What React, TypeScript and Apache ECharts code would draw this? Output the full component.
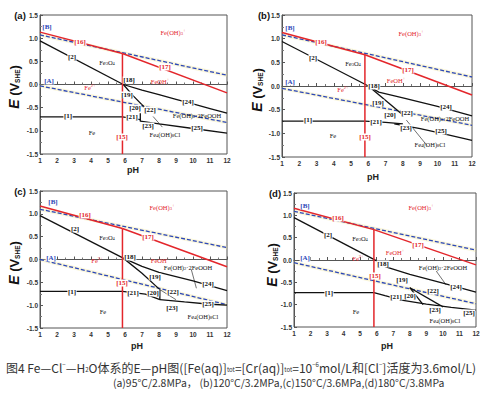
import React, { useEffect, useRef } from "react";
import * as echarts from "echarts";

// ---------- data (pH, E/V) ----------
const PH_MIN = 1, PH_MAX = 12, E_MIN = -1.5, E_MAX = 1.5;

// panel (a) 95 C
const aA = [[1, -0.03], [12, -0.82]];
const aB = [[1, 1.07], [12, 0.2]];
const a16 = [[1, 1.13], [5.85, 0.67]];
const a17 = [[5.85, 0.67], [12, -0.18]];
const a15 = [[5.85, 0.67], [5.85, -1.5]];
const a1 = [[1, -0.7], [5.85, -0.7]];
const a2 = [[1, 0.94], [5.9, 0.0]];
const a24 = [[5.9, 0.0], [7, -0.12], [8, -0.22], [9, -0.32], [10, -0.42], [11, -0.52], [12, -0.62]];
const a19 = [[5.9, 0.0], [6.5, -0.25], [7.3, -0.55]];
const a20 = [[6.9, -0.62], [6.9, -0.8]];
const a21 = [[5.85, -0.7], [6.9, -0.76]];
const a25 = [[6.9, -0.79], [8, -0.85], [10, -0.95], [12, -1.05]];
const a22 = [[7.65, -0.69], [8.2, -0.92]];

// panel (b) 120 C
const bA = [[1, -0.05], [12, -0.83]];
const bB = [[1, 1.08], [12, 0.19]];
const b16 = [[1, 1.13], [5.8, 0.66]];
const b17 = [[5.8, 0.66], [12, -0.19]];
const b15 = [[5.8, 0.66], [5.8, -1.5]];
const b1 = [[1, -0.74], [5.8, -0.74]];
const b2 = [[1, 0.94], [6.0, 0.0]];
const b24 = [[6.0, 0.0], [6.6, -0.13], [8, -0.25], [10, -0.43], [12, -0.63]];
const b19 = [[6.0, 0.0], [7.9, -0.58]];
const b21 = [[5.8, -0.74], [7, -0.77], [8, -0.8]];
const b25 = [[7.5, -0.8], [9, -0.9], [10.5, -1.02], [12, -1.15]];
const b22 = [[8.2, -0.72], [9.4, -1.26]];

// panel (c) 150 C
const cA = [[1, 0.0], [12, -0.99]];
const cB = [[1, 1.1], [12, 0.26]];
const c16 = [[1, 1.17], [5.85, 0.68]];
const c17 = [[5.85, 0.68], [12, -0.16]];
const c15 = [[5.85, 0.68], [5.85, -1.5]];
const c1 = [[1, -0.7], [5.85, -0.7]];
const c2 = [[1, 0.96], [5.9, 0.03]];
const c24 = [[5.9, 0.03], [7, -0.15], [8, -0.28], [10, -0.47], [12, -0.68]];
const c19 = [[5.9, 0.03], [7, -0.3], [8.05, -0.66]];
const c20 = [[8.05, -0.66], [8.05, -0.88]];
const c21 = [[5.85, -0.7], [7.2, -0.76], [8.05, -0.88]];
const c25 = [[8.05, -0.88], [9.5, -0.93], [11, -0.98], [12, -1.0]];
const c22 = [[8.05, -0.66], [9, -0.88]];
const cP1 = [[9.9, -0.22], [10.2, -0.63]];

// panel (d) 180 C
const dA = [[1, -0.06], [12, -0.98]];
const dB = [[1, 1.09], [12, 0.22]];
const d16 = [[1, 1.16], [5.83, 0.68]];
const d17 = [[5.83, 0.68], [12, -0.11]];
const d15 = [[5.83, 0.68], [5.83, -1.5]];
const d1 = [[1, -0.73], [5.83, -0.73]];
const d2 = [[1, 0.95], [6.0, -0.02]];
const d24 = [[6.5, -0.15], [8, -0.32], [10, -0.52], [12, -0.72]];
const d21 = [[5.83, -0.73], [6.5, -0.8], [7.5, -0.9], [9, -0.99], [10.5, -1.06], [12, -1.12]];
const d20 = [[8.0, -0.62], [8.8, -1.0]];
const d22 = [[8.0, -0.62], [10.0, -1.05]];
const dP1 = [[9.6, -0.25], [10.2, -0.56]];

const PANELS = [
  { blue: [aA, aB], red: [a16, a17, a15], black: [a1, a2, a24, a19, a20, a21, a25], thin: [a22] },
  { blue: [bA, bB], red: [b16, b17, b15], black: [b1, b2, b24, b19, b21, b25], thin: [b22] },
  { blue: [cA, cB], red: [c16, c17, c15], black: [c1, c2, c24, c19, c20, c21, c25], thin: [c22, cP1] },
  { blue: [dA, dB], red: [d16, d17, d15], black: [d1, d2, d24, d21, d20, d22], thin: [dP1] },
];

const PANEL_NAMES = ["(a)", "(b)", "(c)", "(d)"];

// ---------- layout ----------
const GRIDS = [
  { left: 40, top: 15, width: 187, height: 139 },
  { left: 282, top: 15, width: 190, height: 142 },
  { left: 40, top: 191, width: 187, height: 137 },
  { left: 294, top: 193, width: 182, height: 134 },
];

const RED = "#e3262b";
const BLUE = "#2c47b8";
const BLACK = "#111";

// number labels: [text, x, y, color]
const NUM_LABELS: [string, number, number, string][] = [
  // a
  ["[B]", 47, 27, BLUE], ["[16]", 80, 42, RED], ["[17]", 165, 67, RED], ["[2]", 72, 57, BLACK],
  ["[A]", 49, 81, BLUE], ["[18]", 129, 80, BLACK], ["[19]", 127, 95, BLACK], ["[20]", 135, 108, BLACK],
  ["[22]", 150, 110, BLACK], ["[24]", 188, 102, BLACK], ["[1]", 68, 116, BLACK], ["[21]", 132, 117, BLACK],
  ["[23]", 148, 126, BLACK], ["[25]", 197, 128, BLACK], ["[15]", 122, 137, RED],
  // b
  ["[B]", 290, 28, BLUE], ["[16]", 321, 42, RED], ["[17]", 408, 70, RED], ["[2]", 313, 58, BLACK],
  ["[A]", 290, 82, BLUE], ["[18]", 374, 86, BLACK], ["[19]", 378, 103, BLACK], ["[20]", 390, 115, BLACK],
  ["[22]", 407, 113, BLACK], ["[24]", 446, 107, BLACK], ["[1]", 308, 120, BLACK], ["[21]", 376, 122, BLACK],
  ["[23]", 406, 128, BLACK], ["[25]", 441, 131, BLACK], ["[15]", 365, 137, RED],
  // c
  ["[B]", 53, 202, BLUE], ["[16]", 85, 215, RED], ["[17]", 148, 237, RED], ["[2]", 75, 229, BLACK],
  ["[A]", 51, 258, BLUE], ["[18]", 130, 257, BLACK], ["[15]", 122, 283, RED], ["[19]", 155, 277, BLACK],
  ["[20]", 153, 293, BLACK], ["[22]", 173, 292, BLACK], ["[24]", 208, 284, BLACK], ["[1]", 72, 292, BLACK],
  ["[21]", 133, 293, BLACK], ["[23]", 172, 308, BLACK], ["[25]", 208, 304, BLACK],
  // d
  ["[B]", 305, 206, BLUE], ["[16]", 338, 218, RED], ["[17]", 418, 245, RED], ["[2]", 328, 235, BLACK],
  ["[A]", 305, 258, BLUE], ["[18]", 383, 264, BLACK], ["[15]", 375, 276, RED], ["[19]", 402, 280, BLACK],
  ["[20]", 410, 296, BLACK], ["[22]", 433, 291, BLACK], ["[24]", 456, 287, BLACK], ["[1]", 329, 293, BLACK],
  ["[21]", 396, 297, BLACK], ["[23]", 435, 310, BLACK], ["[25]", 469, 313, BLACK],
];

// region labels: [rich text, x, y, color]
const FEOH3 = "Fe(OH){sub|3}{sup|+}";
const FE3O4 = "Fe{sub|3}O{sub|4}";
const FEOH = "FeOH{sup|+}";
const FE2 = "Fe{sup|2+}";
const FE = "Fe";
const MIX = "Fe(OH){sub|2}·2FeOOH";
const CL = "Fe{sub|4}(OH){sub|8}Cl";

const REGION_LABELS: [string, number, number, string][] = [
  [FEOH3, 173, 32, RED], [FE3O4, 107, 62, BLACK], [FEOH, 160, 81, RED], [FE2, 90, 87, RED],
  [FE, 92, 132, BLACK], [MIX, 197, 115, BLACK], [CL, 165, 134, BLACK],
  [FEOH3, 411, 33, RED], [FE3O4, 353, 63, BLACK], [FEOH, 396, 80, RED], [FE2, 343, 89, RED],
  [FE, 333, 135, BLACK], [MIX, 445, 118, BLACK], [CL, 430, 144, BLACK],
  [FEOH3, 162, 207, RED], [FE3O4, 107, 237, BLACK], [FEOH, 160, 260, RED], [FE2, 97, 260, RED],
  [FE, 103, 311, BLACK], [MIX, 188, 267, BLACK], [CL, 203, 316, BLACK],
  [FEOH3, 421, 207, RED], [FE3O4, 360, 238, BLACK], [FEOH, 395, 252, RED], [FE2, 358, 258, RED],
  [FE, 356, 311, BLACK], [MIX, 443, 267, BLACK], [CL, 445, 320, BLACK],
];

const YTITLE_POS = [[14, 87], [257, 90], [14, 263], [272, 265]];
const PANEL_NAME_POS = [[20, 15], [264, 15], [20, 191], [275, 193]];
const PH_TITLE_POS = [[133, 170], [373, 177], [137, 346], [387, 346]];

const CAPTION1 =
  "图4 Fe—Cl{sup|−}—H{sub|2}O体系的E—pH图([Fe(aq)]{sub|tot}=[Cr(aq)]{sub|tot}=10{sup|−6}mol/L和[Cl{sup|−}]活度为3.6mol/L)";
const CAPTION2 = "(a)95°C/2.8MPa， (b)120°C/3.2MPa,(c)150°C/3.6MPa,(d)180°C/3.8MPa";

export default function App() {
  const ref = useRef<HTMLDivElement>(null);
  useEffect(() => {
    if (!ref.current) return;
    const chart = echarts.init(ref.current, undefined, { renderer: "svg" });

    const series: any[] = [];
    PANELS.forEach((p, i) => {
      const base = { type: "line", xAxisIndex: i, yAxisIndex: i, showSymbol: false, symbol: "none", silent: true };
      p.blue.forEach((d) => {
        series.push({ ...base, data: d, z: 1, lineStyle: { color: "rgba(240,230,150,0.35)", width: 3.5 } });
        series.push({ ...base, data: d, z: 2, lineStyle: { color: BLUE, width: 1.3, type: [4, 2] } });
      });
      p.black.forEach((d) => series.push({ ...base, data: d, z: 3, lineStyle: { color: BLACK, width: 1.3 } }));
      p.thin.forEach((d) => series.push({ ...base, data: d, z: 3, lineStyle: { color: BLACK, width: 0.6 } }));
      p.red.forEach((d) => series.push({ ...base, data: d, z: 4, lineStyle: { color: RED, width: 1.5 } }));
    });

    const graphics: any[] = [];
    NUM_LABELS.forEach(([t, x, y, c]) =>
      graphics.push({
        type: "text", x, y, z: 100,
        style: {
          text: t, fill: c, fontSize: 7, fontWeight: "bold", fontFamily: "Liberation Serif",
          align: "center", verticalAlign: "middle", textAlign: "center", textVerticalAlign: "middle",
          backgroundColor: "#fff", padding: [0, 0.5],
        },
      })
    );
    REGION_LABELS.forEach(([t, x, y, c]) =>
      graphics.push({
        type: "text", x, y, z: 100,
        style: {
          text: t, fill: c, fontSize: 6.5, fontFamily: "Liberation Serif",
          align: "center", verticalAlign: "middle", textAlign: "center", textVerticalAlign: "middle",
          rich: {
            sub: { fontSize: 4.5, fill: c, padding: [3, 0, 0, 0], fontFamily: "Liberation Serif" },
            sup: { fontSize: 4.5, fill: c, padding: [0, 0, 3, 0], fontFamily: "Liberation Serif" },
          },
        },
      })
    );
    YTITLE_POS.forEach(([x, y]) =>
      graphics.push({
        type: "text", x, y, rotation: Math.PI / 2, z: 100,
        style: {
          text: "{e|E} (V{s|SHE})", fill: "#111", fontSize: 13, fontWeight: "bold", fontFamily: "Liberation Sans",
          align: "center", verticalAlign: "middle", textAlign: "center", textVerticalAlign: "middle",
          rich: {
            e: { fontSize: 14, fontStyle: "italic", fontWeight: "bold", fontFamily: "Liberation Sans", fill: "#111" },
            s: { fontSize: 6.5, fontWeight: "bold", padding: [6, 0, 0, 0], fontFamily: "Liberation Sans", fill: "#111" },
          },
        },
      })
    );
    PANEL_NAMES.forEach((t, i) =>
      graphics.push({
        type: "text", x: PANEL_NAME_POS[i][0], y: PANEL_NAME_POS[i][1], z: 100,
        style: {
          text: t, fill: "#111", fontSize: 9.5, fontWeight: "bold", fontFamily: "Liberation Sans",
          align: "center", verticalAlign: "middle", textAlign: "center", textVerticalAlign: "middle",
        },
      })
    );
    PH_TITLE_POS.forEach(([x, y]) =>
      graphics.push({
        type: "text", x, y, z: 100,
        style: {
          text: "pH", fill: "#222", fontSize: 9, fontWeight: "bold", fontFamily: "Liberation Sans",
          align: "center", verticalAlign: "middle", textAlign: "center", textVerticalAlign: "middle",
        },
      })
    );
    graphics.push({
      type: "text", x: 6, y: 367, z: 100,
      style: {
        text: CAPTION1, fill: "#333", fontSize: 12, fontFamily: "Noto Sans CJK SC",
        align: "left", verticalAlign: "middle", textAlign: "left", textVerticalAlign: "middle",
        rich: {
          sub: { fontSize: 6, fill: "#333", padding: [5, 0, 0, 0], fontFamily: "Noto Sans CJK SC" },
          sup: { fontSize: 6, fill: "#333", padding: [0, 0, 5, 0], fontFamily: "Noto Sans CJK SC" },
        },
      },
    });
    graphics.push({
      type: "text", x: 113, y: 382, z: 100,
      style: {
        text: CAPTION2, fill: "#333", fontSize: 10.4, fontFamily: "Noto Sans CJK SC",
        align: "left", verticalAlign: "middle", textAlign: "left", textVerticalAlign: "middle",
      },
    });

    const axisCommon = {
      axisLine: { show: true, lineStyle: { color: "#555", width: 1 } },
      axisTick: { show: true, inside: true, length: 3, lineStyle: { color: "#555" } },
      minorTick: { show: true, inside: true, splitNumber: 2, length: 2, lineStyle: { color: "#777" } },
      splitLine: { show: false },
    };

    chart.setOption({
      animation: false,
      backgroundColor: "#fff",
      grid: GRIDS.map((g) => ({ ...g, show: true, borderColor: "#555", borderWidth: 1, backgroundColor: "transparent" })),
      xAxis: GRIDS.map((_, i) => ({
        type: "value", gridIndex: i, min: PH_MIN, max: PH_MAX, interval: 1, ...axisCommon,
        axisLabel: { fontSize: 6.5, fontWeight: "bold", color: "#333", margin: 3, fontFamily: "Liberation Sans" },
      })),
      yAxis: GRIDS.map((_, i) => ({
        type: "value", gridIndex: i, min: E_MIN, max: E_MAX, interval: 0.5, ...axisCommon,
        axisLabel: {
          fontSize: 6.5, fontWeight: "bold", color: "#333", margin: 2, fontFamily: "Liberation Sans",
          formatter: (v: any) => Number(v).toFixed(1),
        },
      })),
      series,
      graphic: graphics,
    });
    return () => chart.dispose();
  }, []);
  return <div ref={ref} style={{ width: 488, height: 395, position: "absolute", left: 0, top: 0 }} />;
}
